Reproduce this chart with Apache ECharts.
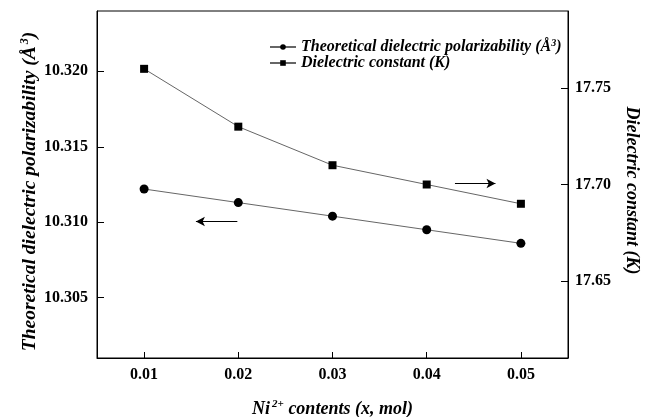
<!DOCTYPE html>
<html>
<head>
<meta charset="utf-8">
<script src="https://cdn.jsdelivr.net/npm/echarts@6/dist/echarts.min.js"></script>
<style>
  html, body { margin: 0; padding: 0; background: #fff; }
  #chart { width: 653px; height: 417px; }
</style>
</head>
<body>
<div id="chart"></div>
<script>
// Ni2+ content (x, mol)
const niContents = [0.01, 0.02, 0.03, 0.04, 0.05];
// Theoretical dielectric polarizability (Å^3), left axis
const polarizability = [10.3122, 10.3113, 10.3104, 10.3095, 10.3086];
// Dielectric constant (K), right axis
const dielectricConstant = [17.76, 17.73, 17.71, 17.70, 17.69];
// Tick labels
const xTicks = ['0.01', '0.02', '0.03', '0.04', '0.05'];
const leftTicks = ['10.305', '10.310', '10.315', '10.320'];
const rightTicks = ['17.65', '17.70', '17.75'];

const SERIF = '"Liberation Serif", "DejaVu Serif", serif';

function pairs(xs, ys) {
  return xs.map((x, i) => [x, ys[i]]);
}
function nums(list) {
  return list.map(Number);
}

const chart = echarts.init(document.getElementById('chart'), null, { renderer: 'canvas' });

function titleStyle(size, padding) {
  return {
    fontFamily: SERIF, fontWeight: 'bold', fontStyle: 'italic', fontSize: size, color: '#000',
    padding: padding,
    rich: {
      sup: { fontFamily: SERIF, fontWeight: 'bold', fontStyle: 'italic', fontSize: Math.round(size * 0.6), color: '#000', padding: [0, 0, 10, 2] }
    }
  };
}
const tickLabel = { fontFamily: SERIF, fontWeight: 'bold', fontSize: 16, color: '#000' };

chart.setOption({
  animation: false,
  backgroundColor: '#fff',
  grid: {
    left: 97, right: 85, top: 11, bottom: 59,
    outerBoundsMode: 'none',
    show: true, borderColor: '#000', borderWidth: 1, backgroundColor: 'transparent'
  },
  legend: {
    orient: 'vertical',
    left: 264, top: 33,
    itemWidth: 26, itemHeight: 7, itemGap: 0,
    textStyle: {
      fontFamily: SERIF, fontWeight: 'bold', fontStyle: 'italic', fontSize: 16, color: '#000',
      rich: {
        sup: { fontFamily: SERIF, fontWeight: 'bold', fontStyle: 'italic', fontSize: 10, color: '#000', padding: [0, 0, 8, 0] }
      }
    },
    formatter: name => name === 'polar'
      ? 'Theoretical dielectric polarizability (Å{sup|3})'
      : 'Dielectric constant (K)',
    data: ['polar', 'dielectric']
  },
  xAxis: {
    type: 'value',
    min: 0.005, max: 0.055,
    name: 'Ni{sup|2+} contents (x, mol)',
    nameLocation: 'middle', nameGap: 41,
    nameTextStyle: titleStyle(18, 0),
    axisLine: { lineStyle: { color: '#000', width: 1 } },
    axisTick: { inside: true, length: 6, lineStyle: { color: '#000' }, customValues: nums(xTicks) },
    axisLabel: { ...tickLabel, margin: 9, customValues: nums(xTicks), formatter: v => v.toFixed(2) },
    splitLine: { show: false }
  },
  yAxis: [
    {
      type: 'value',
      min: 10.301, max: 10.324,
      name: 'Theoretical dielectric polarizability (Å{sup|3})',
      nameLocation: 'middle', nameGap: 56, nameMoveOverlap: false,
      nameTextStyle: titleStyle(19.5, [0, 14, 0, 0]),
      axisLine: { show: true, lineStyle: { color: '#000', width: 1 } },
      axisTick: { show: true, inside: true, length: 7, lineStyle: { color: '#000' }, customValues: nums(leftTicks) },
      axisLabel: { ...tickLabel, margin: 9, customValues: nums(leftTicks), formatter: v => v.toFixed(3) },
      splitLine: { show: false }
    },
    {
      type: 'value',
      min: 17.61, max: 17.79,
      name: 'Dielectric constant (K)',
      nameLocation: 'middle', nameGap: 55, nameRotate: -90,
      nameTextStyle: titleStyle(18, [0, 0, 0, 12]),
      axisLine: { show: true, lineStyle: { color: '#000', width: 1 } },
      axisTick: { show: true, inside: true, length: 7, lineStyle: { color: '#000' }, customValues: nums(rightTicks) },
      axisLabel: { ...tickLabel, margin: 7, customValues: nums(rightTicks), formatter: v => v.toFixed(2) },
      splitLine: { show: false }
    }
  ],
  series: [
    {
      name: 'polar',
      type: 'line',
      yAxisIndex: 0,
      data: pairs(niContents, polarizability),
      symbol: 'circle', symbolSize: 9,
      itemStyle: { color: '#000' },
      lineStyle: { color: '#666', width: 1 },
      markLine: {
        silent: true, symbol: ['none', 'arrow'], symbolSize: [7, 9],
        label: { show: false },
        lineStyle: { color: '#000', width: 1, type: 'solid' },
        data: [[{ coord: [0.0199, 10.31005] }, { coord: [0.0155, 10.31005] }]]
      }
    },
    {
      name: 'dielectric',
      type: 'line',
      yAxisIndex: 1,
      data: pairs(niContents, dielectricConstant),
      symbol: 'rect', symbolSize: 8,
      itemStyle: { color: '#000' },
      lineStyle: { color: '#666', width: 1 },
      markLine: {
        silent: true, symbol: ['none', 'arrow'], symbolSize: [7, 9],
        label: { show: false },
        lineStyle: { color: '#000', width: 1, type: 'solid' },
        data: [[{ coord: [0.0430, 17.7005] }, { coord: [0.0473, 17.7005] }]]
      }
    }
  ]
});
</script>
</body>
</html>
